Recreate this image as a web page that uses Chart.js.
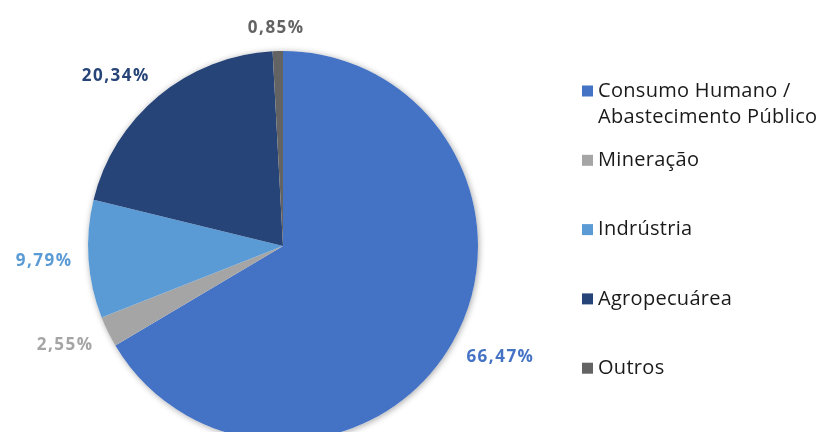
<!DOCTYPE html>
<html>
<head>
<meta charset="utf-8">
<script src="https://cdn.jsdelivr.net/npm/chart.js@4/dist/chart.umd.min.js"></script>
<style>
  html, body { margin: 0; padding: 0; background: #ffffff; overflow: hidden; }
  #wrap { position: relative; width: 818px; height: 480px; }
</style>
</head>
<body>
<div id="wrap"><canvas id="chart" width="818" height="480"></canvas></div>
<script>
// Water use by sector (percent share)
const categories = [
  ['Consumo Humano /', 'Abastecimento Público'],
  'Mineração',
  'Indrústria',
  'Agropecuárea',
  'Outros'
];
const shares = [66.47, 2.55, 9.79, 20.34, 0.85];
const sliceColors = ['#4472C4', '#A5A5A5', '#5B9BD5', '#264478', '#636363'];

const FONT = '"Open Sans", Lato, sans-serif';

const fmt = v => v.toFixed(2).replace('.', ',') + '%';

// soft shadow under the whole pie
const pieShadow = {
  id: 'pieShadow',
  beforeDatasetsDraw(chart) {
    const arc = chart.getDatasetMeta(0).data[0];
    if (!arc) return;
    const ctx = chart.ctx;
    ctx.save();
    ctx.shadowColor = 'rgba(0,0,0,0.35)';
    ctx.shadowBlur = 6;
    ctx.shadowOffsetX = 1;
    ctx.shadowOffsetY = 1;
    ctx.fillStyle = '#ffffff';
    ctx.beginPath();
    ctx.arc(arc.x, arc.y, arc.outerRadius, 0, Math.PI * 2);
    ctx.fill();
    ctx.restore();
  }
};

// value labels just outside each slice: anchor point past the rim on the
// slice's mid angle, label box pushed away from it toward the outside
const outsideLabels = {
  id: 'outsideLabels',
  afterDatasetsDraw(chart) {
    const ctx = chart.ctx;
    const ds = chart.data.datasets[0];
    const meta = chart.getDatasetMeta(0);
    ctx.save();
    ctx.font = 'bold 17px ' + FONT;
    ctx.letterSpacing = '1.5px';
    ctx.textAlign = 'center';
    ctx.textBaseline = 'middle';
    meta.data.forEach((arc, i) => {
      const text = fmt(ds.data[i]);
      const mid = (arc.startAngle + arc.endAngle) / 2;
      const w = ctx.measureText(text).width;
      const h = 14;
      const c = Math.cos(mid), s = Math.sin(mid);
      const d = arc.outerRadius + 16;
      const ox = Math.sign(c) * Math.min(1, Math.abs(c) * 1.5) * w / 2;
      const oy = Math.sign(s) * Math.min(1, Math.abs(s) * 2) * h / 2;
      ctx.fillStyle = ds.backgroundColor[i];
      ctx.fillText(text, arc.x + c * d + ox, arc.y + s * d + oy);
    });
    ctx.restore();
  }
};

// legend on the right, one slot per category
const sideLegend = {
  id: 'sideLegend',
  afterDraw(chart) {
    const ctx = chart.ctx;
    const ds = chart.data.datasets[0];
    const x0 = 582, y0 = 91, slot = 69.3, box = 11, lineH = 26;
    ctx.save();
    ctx.font = '20px ' + FONT;
    ctx.letterSpacing = '0.3px';
    ctx.textAlign = 'left';
    ctx.textBaseline = 'middle';
    chart.data.labels.forEach((lab, i) => {
      const y = y0 + i * slot;
      ctx.fillStyle = ds.backgroundColor[i];
      ctx.fillRect(x0, y - box / 2, box, box);
      ctx.fillStyle = '#1a1a1a';
      const lines = Array.isArray(lab) ? lab : [lab];
      lines.forEach((ln, k) => ctx.fillText(ln, x0 + box + 5, y + k * lineH));
    });
    ctx.restore();
  }
};

new Chart(document.getElementById('chart'), {
  type: 'pie',
  data: {
    labels: categories,
    datasets: [{
      data: shares,
      backgroundColor: sliceColors,
      borderWidth: 0
    }]
  },
  options: {
    responsive: false,
    animation: false,
    layout: { padding: { left: 88, top: 51, right: 340, bottom: 39 } },
    plugins: {
      legend: { display: false },
      tooltip: { enabled: false }
    }
  },
  plugins: [pieShadow, outsideLabels, sideLegend]
});
</script>
</body>
</html>
